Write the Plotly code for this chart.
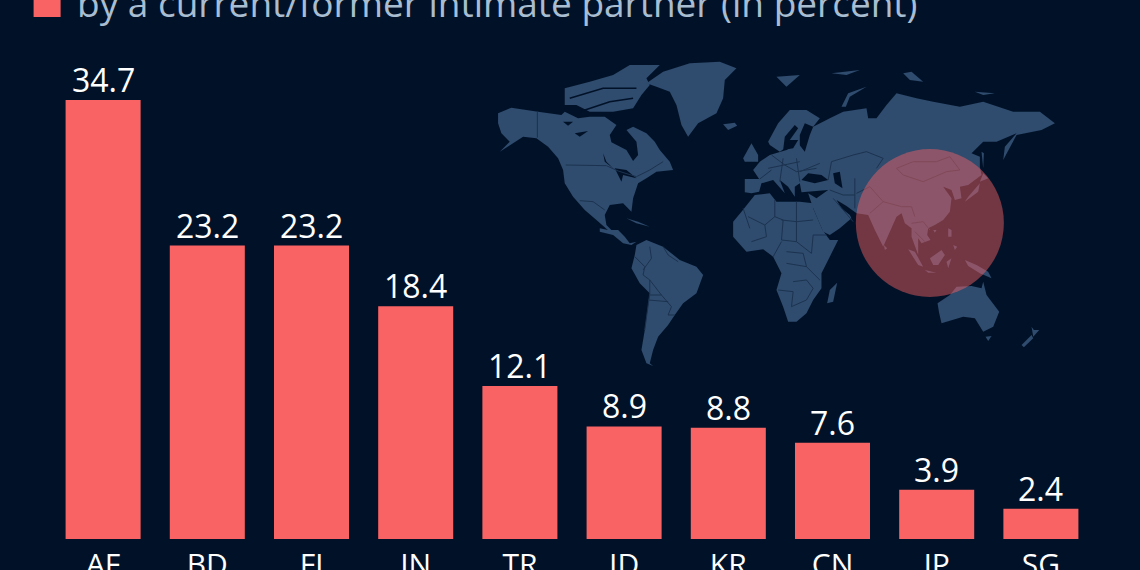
import plotly.graph_objects as go

countries = ["AF", "BD", "FJ", "IN", "TR", "ID", "KR", "CN", "JP", "SG"]
values = [34.7, 23.2, 23.2, 18.4, 12.1, 8.9, 8.8, 7.6, 3.9, 2.4]
value_labels = ["34.7", "23.2", "23.2", "18.4", "12.1", "8.9", "8.8", "7.6", "3.9", "2.4"]
subtitle = "by a current/former intimate partner (in percent)"

W, H = 1140, 570
ML, MR, MT, MB = 51.4, 46.9, 60, 31
BG = "#011228"
LAND = "#2f4b6d"
BAR = "#fa6364"
LINE = "#1b3350"

def A(*p): return [(490 + x / 3, 55 + y / 3) for x, y in p]
def B(*p): return [(720 + x / 3, 55 + y / 3) for x, y in p]
def C(*p): return [(600 + x / 3, 200 + y / 3) for x, y in p]
def D(*p): return [(840 + x / 3, 180 + y / 3) for x, y in p]

land = [
 A((25,175),(65,158),(145,170),(215,180),(225,170),(265,190),(300,185),(345,185),(380,210),(360,240),(365,262),(410,285),(430,318),(445,300),(440,260),(410,225),(430,215),(470,235),(495,260),(510,285),(540,320),(550,345),(500,350),(470,370),(445,385),(430,430),(425,470),(400,445),(360,450),(345,480),(350,510),(370,530),(385,540),(360,530),(320,495),(285,465),(250,425),(225,385),(220,345),(205,310),(175,275),(140,250),(100,245),(70,265),(30,290),(60,260),(35,235),(25,205)),
 A((225,100),(300,80),(370,60),(420,30),(510,30),(470,70),(480,90),(455,120),(430,160),(370,170),(300,170),(260,150),(225,150)),
 A((470,85),(520,50),(600,25),(690,20),(740,40),(705,75),(700,130),(680,175),(625,205),(595,245),(575,210),(560,150),(540,110),(500,95)),
 A((700,208),(735,203),(742,212),(715,225)),
 C((0,85),(25,90),(55,90),(75,110),(90,130),(110,125),(95,135),(70,130),(40,105),(0,95)),
 C((80,55),(115,65),(150,80),(110,70)),
 C((110,135),(140,120),(190,140),(240,180),(290,200),(310,225),(290,280),(250,310),(225,345),(205,375),(175,410),(160,450),(150,490),(160,498),(140,490),(125,450),(135,390),(150,280),(120,250),(95,205),(105,165)),
 B((40,500),(65,470),(105,420),(150,415),(170,440),(240,440),(280,445)) + C((640,25),(668,90),(690,120),(715,120),(690,170),(665,220),(665,265),(640,300),(620,340),(590,365),(565,365),(550,320),(530,270),(545,220),(520,170),(490,148),(440,155),(400,110),(400,70)),
 C((682,310),(690,270),(712,248),(700,305)),
 B((75,412),(75,372),(118,372),(100,345),(120,320),(150,300),(200,285),(235,265),(255,290),(270,240),(280,215),(330,190),(370,170),(440,160),(445,190),(470,190),(500,150),(530,115),(590,130),(640,140),(720,155),(790,140),(880,170),(960,170),(1005,205),(965,225),(890,240),(850,315),(855,275),(890,235),(830,260),(790,260),(755,295),(780,305),(780,335),(785,360),(745,390),(720,395),(725,430),(705,435),(695,405),(670,395),(695,430),(690,470))
 + D((310,120),(285,135),(265,145),(262,165),(272,180),(245,190),(235,175),(235,225),(215,170),(215,145),(195,130),(185,100),(170,110),(130,200),(105,150),(85,105),(50,100))
 + C((740,18),(710,0),(725,25),(750,45),(755,55),(720,85),(690,105),(670,95),(640,25),(625,-20))
 + B((290,430),(325,405),(245,412),(240,385),(225,395),(225,425),(205,395),(180,375),(195,415),(160,375),(125,385),(118,410),(95,415)),
 B((145,260),(175,205),(210,165),(260,165),(300,190),(280,215),(255,205),(240,240),(240,275),(195,280),(180,290),(150,270)),
 B((70,310),(95,265),(115,300),(115,320),(75,320)),
 B((170,65),(240,60),(200,95)),
 B((365,155),(385,115),(440,95),(390,125),(378,155)),
 B((335,55),(420,45),(380,60)),
 B((550,55),(575,50),(610,80),(570,75)),
 B((765,110),(825,115),(790,120)),
 B((790,355),(805,370),(780,380)),
 B((780,385),(775,410),(735,440),(745,425)),
 B((785,290),(792,295),(790,340)),
 D((205,208),(225,215),(250,260),(235,255)),
 D((255,270),(290,278),(265,278)),
 D((270,235),(305,210),(315,225),(295,255),(280,255)),
 D((320,245),(335,235),(325,265)),
 D((325,145),(335,150),(335,170),(325,170)),
 D((340,195),(352,200),(345,210)),
 D((375,240),(410,255),(445,275),(455,295),(420,280),(385,258)),
 D((293,370),(330,345),(350,320),(395,318),(425,325),(430,305),(440,345),(478,395),(460,440),(430,455),(405,415),(370,410),(305,430),(298,400)),
 D((437,470),(455,468),(445,483)),
 D((545,495),(575,465),(580,475),(552,502)),
 D((575,440),(582,450),(598,450),(580,470)),
 D((132,195),(142,205),(135,210)),
 D((280,150),(290,150),(285,158)),
]
water = [
 A((220,200),(250,200),(235,212)),
 A((255,235),(295,228),(270,245)),
 A((340,295),(350,320),(370,340),(345,320)),
 A((375,340),(410,345),(440,370),(400,360),(395,380)),
 B((245,375),(265,355),(305,360),(325,375),(285,385)),
 B((340,355),(360,350),(368,400),(345,385)),
 B((190,285),(195,245),(225,210),(235,220),(210,255),(235,255),(220,280)),
]
channels = [
 A((240,130),(340,100),(440,100)),
 A((270,170),(360,140),(430,130)),
]
borders = [
 A((143,170),(143,248)),
 A((228,330),(350,332),(385,348),(440,365),(480,345),(520,320)),
 A((270,437),(310,440),(345,465)),
 C((430,25),(450,85)),
 C((445,50),(495,75),(525,50),(525,0)),
 C((495,75),(500,110),(455,125)),
 C((525,50),(550,60),(545,120),(590,125),(590,65),(545,60)),
 C((590,5),(590,65),(640,60)),
 C((590,125),(635,160),(640,105),(680,105)),
 C((545,125),(520,170)),
 C((560,155),(610,160),(620,200),(560,190)),
 C((535,270),(580,275),(575,320)),
 C((580,245),(620,240),(640,265),(620,300),(575,320)),
 C((620,200),(660,240)),
 C((105,170),(135,200),(130,225),(150,240),(150,280),(135,390)),
 C((150,140),(155,175),(130,210)),
 C((190,140),(205,165),(235,185)),
 C((150,240),(185,285),(215,320),(205,345),(225,345)),
 C((185,285),(150,285)),
 C((145,300),(205,305)),
 B((120,372),(155,345)),
 B((155,300),(195,330),(230,350),(290,340)),
 B((145,340),(240,320)),
 B((190,310),(180,380)),
 B((230,310),(240,380)),
 B((300,325),(240,350)),
 B((325,375),(335,320),(400,300),(440,290),(490,310),(470,340)),
 B((330,405),(370,420),(405,420)),
 B((405,370),(405,460)),
 B((340,430),(400,500)),
 B((530,340),(580,320),(650,320),(690,305),(720,345),(680,350),(610,380),(550,360),(530,340)),
 D((50,40),(90,20),(130,65),(185,80),(215,80),(225,110)),
 D((130,65),(90,100)),
 D((215,130),(250,125),(270,150)),
 D((225,155),(255,185)),
]

plot_w = W - ML - MR
plot_h = H - MT - MB

def path(points, close=True):
    p = [((x - ML) / plot_w, (H - MB - y) / plot_h) for x, y in points]
    s = "M" + " L".join(f"{x:.5f},{y:.5f}" for x, y in p)
    return s + (" Z" if close else "")

def box(x0, y0, x1, y1):
    return dict(x0=(x0 - ML) / plot_w, x1=(x1 - ML) / plot_w,
                y0=(H - MB - y1) / plot_h, y1=(H - MB - y0) / plot_h)

shapes = []
for poly in land:
    shapes.append(dict(type="path", path=path(poly), xref="paper", yref="paper",
                       fillcolor=LAND, line=dict(width=0), layer="below"))
for poly in water:
    shapes.append(dict(type="path", path=path(poly), xref="paper", yref="paper",
                       fillcolor=BG, line=dict(width=0), layer="below"))
for line in channels:
    shapes.append(dict(type="path", path=path(line, close=False), xref="paper", yref="paper",
                       line=dict(color=BG, width=1.5), layer="below"))
for line in borders:
    shapes.append(dict(type="path", path=path(line, close=False), xref="paper", yref="paper",
                       line=dict(color=LINE, width=1), layer="below"))
shapes.append(dict(type="circle", xref="paper", yref="paper",
                   fillcolor="rgba(250,99,100,0.46)", line=dict(width=0), layer="below",
                   **box(856, 149, 1004, 297)))
shapes.append(dict(type="rect", xref="paper", yref="paper", fillcolor=BAR,
                   line=dict(width=0), layer="above", **box(34, -12, 61, 17)))

annotations = [dict(text=subtitle, xref="paper", yref="paper",
                    x=(75 - ML) / plot_w, y=(H - MB - 2) / plot_h,
                    xanchor="left", yanchor="middle", showarrow=False,
                    font=dict(family="Open Sans", size=37, color="#a9bdd0"))]
for c, v, t in zip(countries, values, value_labels):
    annotations.append(dict(text=t, x=c, y=v, xref="x", yref="y", showarrow=False,
                            xanchor="center", yanchor="bottom", yshift=-3,
                            font=dict(family="Open Sans", size=32, color="#ffffff")))

fig = go.Figure(go.Bar(
    x=countries, y=values, width=0.72,
    marker=dict(color=BAR, line=dict(width=0)),
))
fig.update_layout(
    width=W, height=H, autosize=False,
    margin=dict(l=ML, r=MR, t=MT, b=MB, pad=0),
    paper_bgcolor=BG, plot_bgcolor="rgba(0,0,0,0)",
    showlegend=False, shapes=shapes, annotations=annotations,
    font=dict(family="Open Sans", color="#ffffff"),
    xaxis=dict(type="category", range=[-0.5, 9.5], showgrid=False, zeroline=False,
               showline=False, ticks="", tickfont=dict(size=30, color="#ffffff"),
               ticklabelstandoff=5, automargin=False, fixedrange=True),
    yaxis=dict(range=[0, (H - MT - MB) / 12.65], visible=False, fixedrange=True),
)
fig.write_html(
    "out.html", config={"displayModeBar": False},
    post_script="document.body.style.margin='0';document.body.style.overflow='hidden';"
                f"document.body.style.background='{BG}';",
)
